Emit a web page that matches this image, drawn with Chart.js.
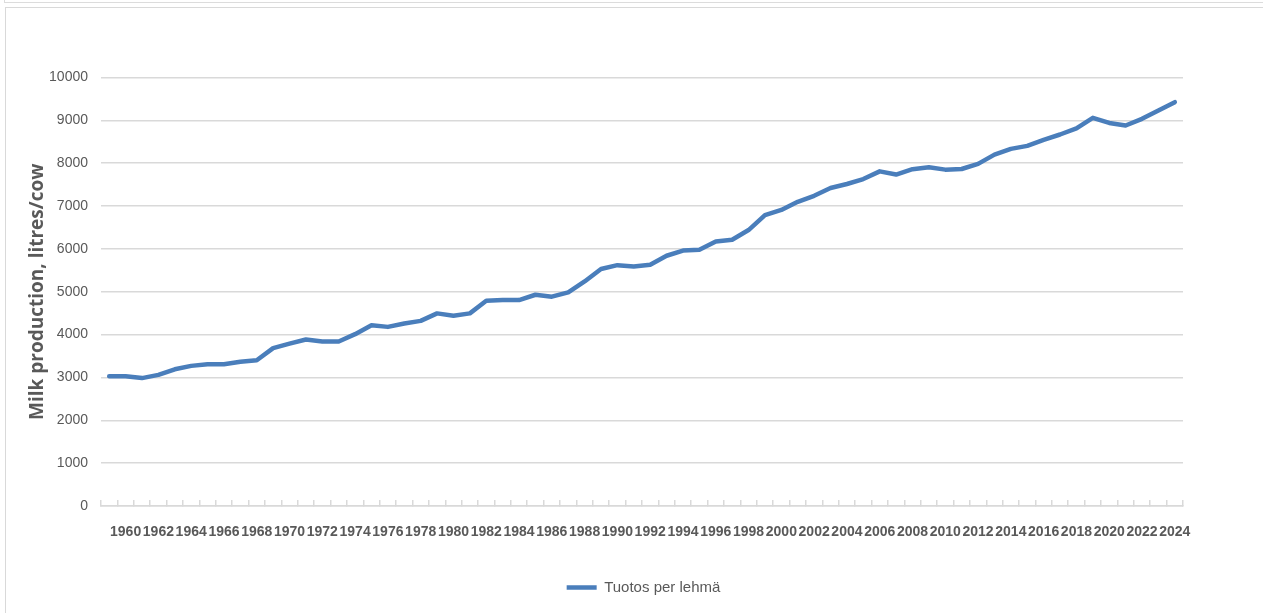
<!DOCTYPE html>
<html>
<head>
<meta charset="utf-8">
<script src="https://cdn.jsdelivr.net/npm/chart.js@4"></script>
<style>
  html, body { margin: 0; padding: 0; background: #ffffff; overflow: hidden; }
  #outer { position: absolute; left: 4px; top: -20px; width: 1300px; height: 21px; border: 1px solid #dcdcdc; }
  #frame { position: absolute; left: 5px; top: 7px; width: 1300px; height: 700px; border-left: 1px solid #d9d9d9; border-top: 1px solid #d9d9d9; }
  #wrap { position: absolute; left: 0; top: 0; width: 1263px; height: 613px; }
</style>
</head>
<body>
<div id="outer"></div>
<div id="frame"></div>
<div id="wrap"><canvas id="chart" width="1263" height="613"></canvas></div>
<script>
// Years on the category axis
const years = [
  1959, 1960, 1961, 1962, 1963, 1964, 1965, 1966, 1967, 1968,
  1969, 1970, 1971, 1972, 1973, 1974, 1975, 1976, 1977, 1978,
  1979, 1980, 1981, 1982, 1983, 1984, 1985, 1986, 1987, 1988,
  1989, 1990, 1991, 1992, 1993, 1994, 1995, 1996, 1997, 1998,
  1999, 2000, 2001, 2002, 2003, 2004, 2005, 2006, 2007, 2008,
  2009, 2010, 2011, 2012, 2013, 2014, 2015, 2016, 2017, 2018,
  2019, 2020, 2021, 2022, 2023, 2024
];

// Milk yield per cow, litres
const yieldPerCow = [
  3030, 3030, 2985, 3060, 3190, 3270, 3310, 3310, 3365, 3400,
  3685, 3790, 3885, 3840, 3840, 4010, 4220, 4180, 4260, 4320,
  4495, 4440, 4495, 4790, 4805, 4805, 4930, 4885, 4985, 5240,
  5530, 5620, 5590, 5630, 5840, 5960, 5980, 6175, 6215, 6440,
  6790, 6910, 7100, 7240, 7420, 7515, 7630, 7810, 7735, 7860,
  7905, 7850, 7865, 7985, 8200, 8335, 8405, 8545, 8670, 8815,
  9060, 8940, 8880, 9035, 9230, 9425
];

// Years that carry a label on the x axis
const labelledYears = [
  1960, 1962, 1964, 1966, 1968, 1970, 1972, 1974, 1976, 1978,
  1980, 1982, 1984, 1986, 1988, 1990, 1992, 1994, 1996, 1998,
  2000, 2002, 2004, 2006, 2008, 2010, 2012, 2014, 2016, 2018,
  2020, 2022, 2024
];

// Value axis ticks
const yTicks = [0, 1000, 2000, 3000, 4000, 5000, 6000, 7000, 8000, 9000, 10000];

const seriesName = 'Tuotos per lehmä';
const axisTitle = 'Milk production, litres/cow';

const sans = '"Liberation Sans", Arial, sans-serif';
const textGrey = '#595959';
const gridGrey = '#d9d9d9';

new Chart(document.getElementById('chart'), {
  type: 'line',
  data: {
    labels: years,
    datasets: [{
      label: seriesName,
      data: yieldPerCow,
      borderColor: '#4a7ebb',
      backgroundColor: '#4a7ebb',
      borderWidth: 4.5,
      borderJoinStyle: 'round',
      borderCapStyle: 'round',
      pointRadius: 0,
      pointHoverRadius: 0,
      pointStyle: 'line',
      tension: 0
    }]
  },
  options: {
    responsive: false,
    animation: false,
    layout: { padding: { left: 24, right: 0, top: 77.5, bottom: 8 } },
    plugins: {
      tooltip: { enabled: false },
      legend: {
        position: 'bottom',
        labels: {
          usePointStyle: true,
          pointStyleWidth: 30,
          boxWidth: 26,
          boxHeight: 4,
          padding: 10,
          color: textGrey,
          font: { family: sans, size: 15 }
        }
      }
    },
    scales: {
      x: {
        type: 'category',
        offset: true,
        border: { display: true, color: gridGrey, width: 1.5 },
        grid: {
          offset: true,
          drawOnChartArea: false,
          drawTicks: true,
          tickLength: -6,
          color: gridGrey,
          lineWidth: 1.5
        },
        ticks: {
          autoSkip: false,
          maxRotation: 0,
          minRotation: 0,
          padding: 24,
          color: textGrey,
          font: { family: sans, size: 14, weight: 'bold' },
          callback: function (value, index) {
            const y = years[index];
            return labelledYears.includes(y) ? String(y) : '';
          }
        },
        afterFit: function (scale) { scale.height = 64; }
      },
      y: {
        min: 0,
        max: 10000,
        border: { display: false },
        grid: { color: gridGrey, lineWidth: 1.5, drawTicks: false },
        afterBuildTicks: function (scale) {
          scale.ticks = yTicks.map(v => ({ value: v }));
        },
        ticks: {
          padding: 13,
          color: textGrey,
          font: { family: sans, size: 14 },
          callback: v => String(v)
        },
        title: {
          display: true,
          text: axisTitle,
          color: textGrey,
          padding: { top: 2, bottom: 0 },
          font: { family: '"Open Sans", "DejaVu Sans", sans-serif', size: 19, weight: 'bold' }
        },
        afterFit: function (scale) { scale.width = 77; }
      },
      // empty right-hand gutter that keeps the plot clear of the window edge
      gutter: {
        position: 'right',
        display: true,
        border: { display: false },
        grid: { display: false },
        ticks: { display: false },
        afterFit: function (scale) { scale.width = 80; }
      }
    }
  }
});
</script>
</body>
</html>
